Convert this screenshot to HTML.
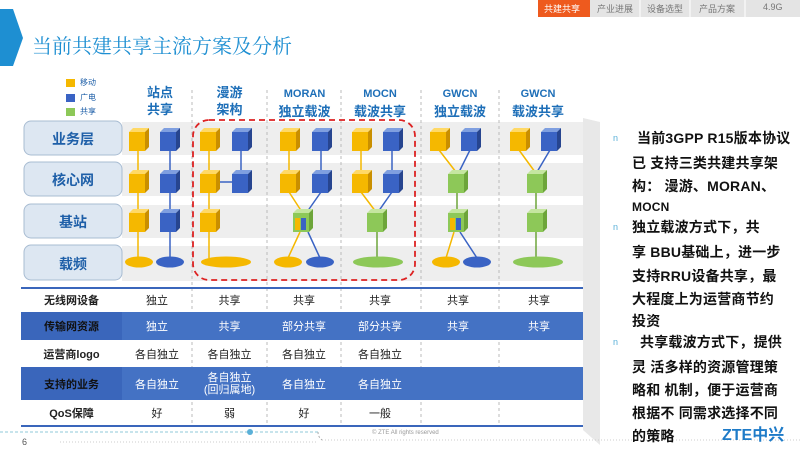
<!DOCTYPE html>
<html><head><meta charset="utf-8"><style>
body{margin:0;width:800px;height:450px;overflow:hidden;background:#fff;font-family:"Liberation Sans","Noto Sans CJK SC",sans-serif;position:relative}
.a{position:absolute;white-space:nowrap}
.rt{position:absolute;left:632px;font-size:14px;font-weight:bold;color:#111;white-space:nowrap;letter-spacing:0.2px}
.bul{position:absolute;left:613px;font-size:9px;color:#5ab0d8}
</style></head><body>
<svg width="800" height="450" style="position:absolute;left:0;top:0" xmlns="http://www.w3.org/2000/svg">
<defs>
<g id="cy"><polygon points="0,4 4,0 20,0 16,4" fill="#ffd966"/><polygon points="16,4 20,0 20,19 16,23" fill="#c98f00"/><rect x="0" y="4" width="16" height="19" fill="#f5b800"/></g>
<g id="cb"><polygon points="0,4 4,0 20,0 16,4" fill="#7f9fe0"/><polygon points="16,4 20,0 20,19 16,23" fill="#27458f"/><rect x="0" y="4" width="16" height="19" fill="#3a63c4"/></g>
<g id="cg"><polygon points="0,4 4,0 20,0 16,4" fill="#c5e6a0"/><polygon points="16,4 20,0 20,19 16,23" fill="#6da53a"/><rect x="0" y="4" width="16" height="19" fill="#8dc858"/></g>
<g id="cc"><use href="#cg"/><rect x="2" y="9" width="5" height="12" fill="#f5b800"/><rect x="8" y="9" width="5" height="12" fill="#3a63c4"/></g>
</defs>
<polygon points="0,9 13,9 23,38 13,66 0,66" fill="#1e8fd2"/>
<rect x="538" y="0" width="52" height="17" fill="#ee5a1e"/>
<rect x="590" y="0" width="210" height="17" fill="#e4e4e4"/>
<line x1="640" y1="0" x2="640" y2="17" stroke="#fff"/><line x1="690" y1="0" x2="690" y2="17" stroke="#fff"/><line x1="745" y1="0" x2="745" y2="17" stroke="#fff"/>
<g fill="#eeeeee"><rect x="122" y="122" width="461" height="33"/><rect x="122" y="163" width="461" height="33"/><rect x="122" y="205" width="461" height="33"/><rect x="122" y="246" width="461" height="35"/></g>
<g fill="#dde7f2" stroke="#a8bcd2" stroke-width="1"><rect x="24" y="121" width="98" height="34" rx="7"/><rect x="24" y="162" width="98" height="34" rx="7"/><rect x="24" y="204" width="98" height="34" rx="7"/><rect x="24" y="245" width="98" height="35" rx="7"/></g>
<rect x="66" y="79" width="9" height="8" fill="#f5b800"/><rect x="66" y="94" width="9" height="8" fill="#3a63c4"/><rect x="66" y="108" width="9" height="8" fill="#8dc858"/>
<g stroke="#bbb" stroke-dasharray="3,3"><line x1="192" y1="90" x2="192" y2="426"/><line x1="267" y1="90" x2="267" y2="426"/><line x1="341" y1="90" x2="341" y2="426"/><line x1="421" y1="90" x2="421" y2="426"/><line x1="499" y1="90" x2="499" y2="426"/></g>
<rect x="122" y="312" width="461" height="28" fill="#4472c4"/><rect x="122" y="367" width="461" height="33" fill="#4472c4"/>
<rect x="21" y="312" width="101" height="28" fill="#3a66bb"/><rect x="21" y="367" width="101" height="33" fill="#3a66bb"/>
<line x1="21" y1="288" x2="583" y2="288" stroke="#3a66bb" stroke-width="2"/>
<line x1="21" y1="426" x2="583" y2="426" stroke="#3a66bb" stroke-width="2"/>
<g stroke-width="1.5">
<line x1="138" y1="140" x2="138" y2="258" stroke="#f5b800"/><line x1="170" y1="140" x2="170" y2="258" stroke="#3a63c4"/>
<line x1="209" y1="140" x2="209" y2="258" stroke="#f5b800"/><line x1="241" y1="140" x2="241" y2="182" stroke="#3a63c4"/><line x1="209" y1="182" x2="241" y2="182" stroke="#3a63c4"/>
<line x1="289" y1="140" x2="289" y2="185" stroke="#f5b800"/><line x1="321" y1="140" x2="321" y2="185" stroke="#3a63c4"/>
<line x1="289" y1="192" x2="302" y2="212" stroke="#f5b800"/><line x1="321" y1="192" x2="307" y2="212" stroke="#3a63c4"/>
<line x1="300" y1="232" x2="288" y2="258" stroke="#f5b800"/><line x1="308" y1="232" x2="320" y2="258" stroke="#3a63c4"/>
<line x1="361" y1="140" x2="361" y2="185" stroke="#f5b800"/><line x1="392" y1="140" x2="392" y2="185" stroke="#3a63c4"/>
<line x1="361" y1="192" x2="376" y2="212" stroke="#f5b800"/><line x1="392" y1="192" x2="378" y2="212" stroke="#3a63c4"/>
<line x1="377" y1="230" x2="377" y2="258" stroke="#6da53a"/>
<line x1="439" y1="150" x2="456" y2="172" stroke="#f5b800"/><line x1="470" y1="150" x2="459" y2="172" stroke="#3a63c4"/>
<line x1="457" y1="190" x2="457" y2="212" stroke="#6da53a"/>
<line x1="454" y1="232" x2="446" y2="258" stroke="#f5b800"/><line x1="460" y1="232" x2="477" y2="258" stroke="#3a63c4"/>
<line x1="519" y1="150" x2="535" y2="172" stroke="#f5b800"/><line x1="550" y1="150" x2="537" y2="172" stroke="#3a63c4"/>
<line x1="536" y1="190" x2="536" y2="258" stroke="#6da53a"/>
</g>
<use href="#cy" x="129" y="128"/><use href="#cb" x="160" y="128"/><use href="#cy" x="129" y="170"/><use href="#cb" x="160" y="170"/><use href="#cy" x="129" y="209"/><use href="#cb" x="160" y="209"/>
<use href="#cy" x="200" y="128"/><use href="#cb" x="232" y="128"/><use href="#cy" x="200" y="170"/><use href="#cb" x="232" y="170"/><use href="#cy" x="200" y="209"/>
<use href="#cy" x="280" y="128"/><use href="#cb" x="312" y="128"/><use href="#cy" x="280" y="170"/><use href="#cb" x="312" y="170"/><use href="#cc" x="293" y="209"/>
<use href="#cy" x="352" y="128"/><use href="#cb" x="383" y="128"/><use href="#cy" x="352" y="170"/><use href="#cb" x="383" y="170"/><use href="#cg" x="367" y="209"/>
<use href="#cy" x="430" y="128"/><use href="#cb" x="461" y="128"/><use href="#cg" x="448" y="170"/><use href="#cc" x="448" y="209"/>
<use href="#cy" x="510" y="128"/><use href="#cb" x="541" y="128"/><use href="#cg" x="527" y="170"/><use href="#cg" x="527" y="209"/>
<ellipse cx="139" cy="262" rx="14" ry="5.5" fill="#f5b800"/><ellipse cx="170" cy="262" rx="14" ry="5.5" fill="#3a63c4"/>
<ellipse cx="226" cy="262" rx="25" ry="5.5" fill="#f5b800"/>
<ellipse cx="288" cy="262" rx="14" ry="5.5" fill="#f5b800"/><ellipse cx="320" cy="262" rx="14" ry="5.5" fill="#3a63c4"/>
<ellipse cx="378" cy="262" rx="25" ry="5.5" fill="#8dc858"/>
<ellipse cx="446" cy="262" rx="14" ry="5.5" fill="#f5b800"/><ellipse cx="477" cy="262" rx="14" ry="5.5" fill="#3a63c4"/>
<ellipse cx="538" cy="262" rx="25" ry="5.5" fill="#8dc858"/>
<rect x="193" y="120" width="222" height="160" rx="16" fill="none" stroke="#d22" stroke-width="1.8" stroke-dasharray="6,4"/>
<polygon points="583,118 600,122 600,445 583,430" fill="#e8e8e8"/>
<line x1="0" y1="432" x2="318" y2="432" stroke="#8fc8d8" stroke-dasharray="3,2"/>
<circle cx="250" cy="432" r="3" fill="#5ab0d8"/>
<path d="M318,432 Q318,437 322,440" fill="none" stroke="#aaa" stroke-dasharray="2,2"/>
<line x1="60" y1="442" x2="318" y2="442" stroke="#ccc" stroke-dasharray="1,2"/>
<line x1="322" y1="440" x2="800" y2="440" stroke="#ccc" stroke-dasharray="1,2"/>
</svg>
<div class="a" style="left:544px;top:2px;font-size:9px;color:#fff">共建共享</div>
<div class="a" style="left:597px;top:2px;font-size:9px;color:#777">产业进展</div>
<div class="a" style="left:647px;top:2px;font-size:9px;color:#777">设备选型</div>
<div class="a" style="left:699px;top:2px;font-size:9px;color:#777">产品方案</div>
<div class="a" style="left:763px;top:2px;font-size:9px;color:#777">4.9G</div>
<div class="a" style="left:32px;top:30px;font-size:20px;color:#1e8fd2;font-family:'Liberation Serif','Noto Serif CJK SC',serif">当前共建共享主流方案及分析</div>
<div class="a" style="left:80px;top:77px;font-size:8px;color:#1e5fa8">移动</div>
<div class="a" style="left:80px;top:92px;font-size:8px;color:#1e5fa8">广电</div>
<div class="a" style="left:80px;top:106px;font-size:8px;color:#1e5fa8">共享</div>
<div style="position:absolute;left:120px;top:84px;width:80px;text-align:center;font-size:13px;font-weight:bold;color:#1e6fb8;line-height:17px">站点<br>共享</div>
<div style="position:absolute;left:192px;top:84px;width:75px;text-align:center;font-size:13px;font-weight:bold;color:#1e6fb8;line-height:17px">漫游<br>架构</div>
<div style="position:absolute;left:267px;top:84px;width:75px;text-align:center;font-size:13px;font-weight:bold;color:#1e6fb8;line-height:17px"><span style="font-size:11px">MORAN</span><br>独立载波</div>
<div style="position:absolute;left:341px;top:84px;width:78px;text-align:center;font-size:13px;font-weight:bold;color:#1e6fb8;line-height:17px"><span style="font-size:11px">MOCN</span><br>载波共享</div>
<div style="position:absolute;left:421px;top:84px;width:78px;text-align:center;font-size:13px;font-weight:bold;color:#1e6fb8;line-height:17px"><span style="font-size:11px">GWCN</span><br>独立载波</div>
<div style="position:absolute;left:499px;top:84px;width:78px;text-align:center;font-size:13px;font-weight:bold;color:#1e6fb8;line-height:17px"><span style="font-size:11px">GWCN</span><br>载波共享</div>
<div style="position:absolute;left:24px;width:98px;text-align:center;font-size:14px;font-weight:bold;color:#1e5fa8;top:129px">业务层</div>
<div style="position:absolute;left:24px;width:98px;text-align:center;font-size:14px;font-weight:bold;color:#1e5fa8;top:170px">核心网</div>
<div style="position:absolute;left:24px;width:98px;text-align:center;font-size:14px;font-weight:bold;color:#1e5fa8;top:212px">基站</div>
<div style="position:absolute;left:24px;width:98px;text-align:center;font-size:14px;font-weight:bold;color:#1e5fa8;top:254px">载频</div>
<div style="position:absolute;left:21px;top:288px;width:562px;font-size:11px">
<div style="display:flex;height:24px;align-items:center;color:#222"><b style="width:101px;text-align:center">无线网设备</b><span style="width:70px;text-align:center">独立</span><span style="width:75px;text-align:center">共享</span><span style="width:74px;text-align:center">共享</span><span style="width:78px;text-align:center">共享</span><span style="width:78px;text-align:center">共享</span><span style="width:84px;text-align:center">共享</span></div>
<div style="display:flex;height:28px;align-items:center;color:#fff"><b style="width:101px;text-align:center;color:#111">传输网资源</b><span style="width:70px;text-align:center">独立</span><span style="width:75px;text-align:center">共享</span><span style="width:74px;text-align:center">部分共享</span><span style="width:78px;text-align:center">部分共享</span><span style="width:78px;text-align:center">共享</span><span style="width:84px;text-align:center">共享</span></div>
<div style="display:flex;height:27px;align-items:center;color:#222"><b style="width:101px;text-align:center">运营商logo</b><span style="width:70px;text-align:center">各自独立</span><span style="width:75px;text-align:center">各自独立</span><span style="width:74px;text-align:center">各自独立</span><span style="width:78px;text-align:center">各自独立</span></div>
<div style="display:flex;height:33px;align-items:center;color:#fff"><b style="width:101px;text-align:center;color:#111">支持的业务</b><span style="width:70px;text-align:center">各自独立</span><span style="width:75px;text-align:center;line-height:12px">各自独立<br>(回归属地)</span><span style="width:74px;text-align:center">各自独立</span><span style="width:78px;text-align:center">各自独立</span></div>
<div style="display:flex;height:26px;align-items:center;color:#222"><b style="width:101px;text-align:center">QoS保障</b><span style="width:70px;text-align:center">好</span><span style="width:75px;text-align:center">弱</span><span style="width:74px;text-align:center">好</span><span style="width:78px;text-align:center">一般</span></div>
</div>
<div class="bul" style="top:133px">n</div>
<div class="rt" style="top:128px;left:637px">当前3GPP R15版本协议</div>
<div class="rt" style="top:153px">已 支持三类共建共享架</div>
<div class="rt" style="top:176px">构： 漫游、MORAN、</div>
<div class="rt" style="top:200px;font-size:12px">MOCN</div>
<div class="bul" style="top:222px">n</div>
<div class="rt" style="top:217px">独立载波方式下，共</div>
<div class="rt" style="top:242px">享 BBU基础上，进一步</div>
<div class="rt" style="top:266px">支持RRU设备共享，最</div>
<div class="rt" style="top:289px">大程度上为运营商节约</div>
<div class="rt" style="top:311px">投资</div>
<div class="bul" style="top:337px">n</div>
<div class="rt" style="top:332px;left:640px">共享载波方式下，提供</div>
<div class="rt" style="top:357px">灵 活多样的资源管理策</div>
<div class="rt" style="top:380px">略和 机制，便于运营商</div>
<div class="rt" style="top:403px">根据不 同需求选择不同</div>
<div class="rt" style="top:426px">的策略</div>
<div class="a" style="left:722px;top:421px;font-size:16px;font-weight:bold;color:#1e7bc8">ZTE中兴</div>
<div class="a" style="left:22px;top:437px;font-size:9px;color:#555">6</div>
<div class="a" style="left:372px;top:430px;font-size:6px;color:#999">© ZTE All rights reserved</div>
</body></html>
